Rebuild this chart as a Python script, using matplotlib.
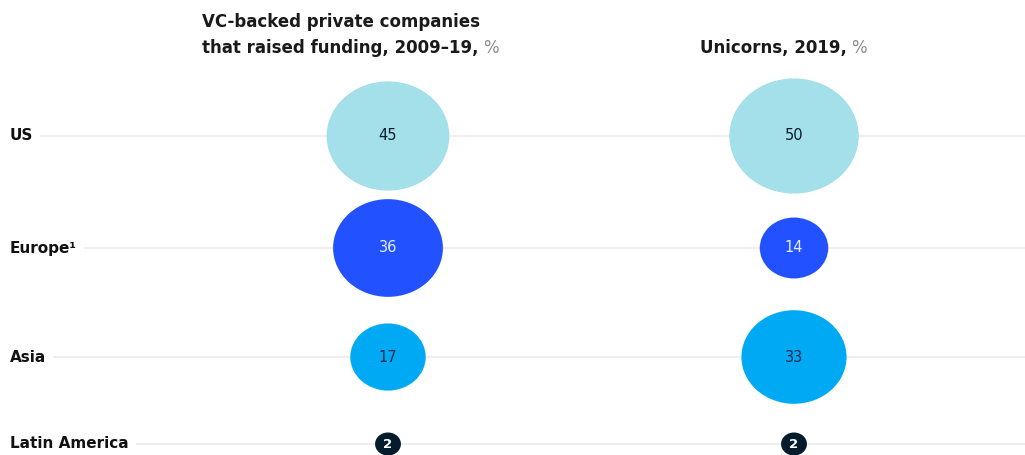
import matplotlib
matplotlib.use("Agg")
import matplotlib.pyplot as plt
from matplotlib.patches import Ellipse
import numpy as np

regions = ["US", "Europe\u00b9", "Asia", "Latin America"]
vc_backed = [45, 36, 17, 2]
unicorns = [50, 14, 33, 2]
column_titles = ["VC-backed private companies\nthat raised funding, 2009\u201319,", "Unicorns, 2019,"]

fill_colors = ["#a3e0ea", "#2251ff", "#00a9f4", "#051c2c"]
label_colors = ["#051c2c", "#e8eeff", "#0b2a4a", "#ffffff"]

FONT = "DejaVu Sans"

fig = plt.figure(figsize=(10.25, 4.55), dpi=100)
ax = fig.add_axes([0, 0, 1, 1])
ax.set_xlim(0, 1025)
ax.set_ylim(455, 0)
ax.axis("off")

row_y = [136, 248, 357, 444]
col_x = [388, 794]
scale_w = 18.3   # ellipse width per sqrt(percent)
squash = 0.89    # height / width

# row labels and guide lines
for y, name in zip(row_y, regions):
    t = ax.text(10, y, name, fontsize=11, fontweight="bold", family=FONT,
                color="#111111", va="center", ha="left")
    fig.canvas.draw()
    bb = t.get_window_extent().transformed(ax.transData.inverted())
    ax.plot([bb.x1 + 8, 1025], [y, y], color="#efefef", lw=1.6, zorder=0)

# bubbles
for cx, series in zip(col_x, [vc_backed, unicorns]):
    for y, v, fc, lc in zip(row_y, series, fill_colors, label_colors):
        w = scale_w * np.sqrt(v)
        ax.add_patch(Ellipse((cx, y), w, w * squash, facecolor=fc,
                             edgecolor="none", zorder=2))
        ax.text(cx, y, str(v), fontsize=10.5 if v > 5 else 9.5,
                fontweight="bold" if v <= 5 else "normal", family=FONT,
                color=lc, ha="center", va="center", zorder=3)

# column headers with a grey unit sign
title_pos = [(202, 48), (700, 48)]
for (tx, ty), title in zip(title_pos, column_titles):
    lines = title.split("\n")
    last = None
    for i, line in enumerate(lines):
        yy = ty - 26 * (len(lines) - 1 - i)
        last = ax.text(tx, yy, line, fontsize=12, fontweight="bold", family=FONT,
                       color="#1a1a1a", ha="left", va="center")
    ax.annotate("%", xy=(1, 0), xycoords=last, xytext=(3, 0),
                textcoords="offset points", fontsize=12, family=FONT,
                color="#8a8a8a", ha="left", va="bottom")

fig.savefig("out.png", dpi=100, facecolor="white")
